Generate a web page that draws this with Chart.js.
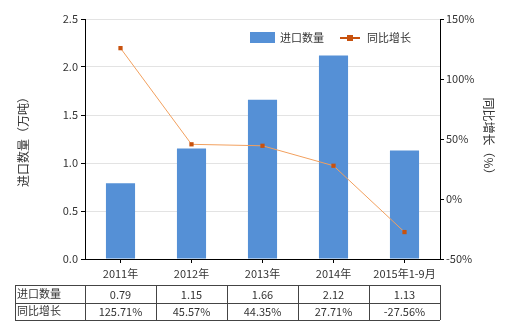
<!DOCTYPE html>
<html>
<head>
<meta charset="utf-8">
<script src="https://cdn.jsdelivr.net/npm/chart.js@4"></script>
<style>
  html, body { margin: 0; padding: 0; background: #fff; }
  #wrap { width: 520px; height: 330px; }
</style>
</head>
<body>
<div id="wrap"><canvas id="chart" width="520" height="330"></canvas></div>
<script>
// --- Data ---
const categories = ['2011年', '2012年', '2013年', '2014年', '2015年1-9月'];
const importQty = [0.79, 1.15, 1.66, 2.12, 1.13];
const yoyGrowth = [125.71, 45.57, 44.35, 27.71, -27.56];
const qtyLabels = ['0.79', '1.15', '1.66', '2.12', '1.13'];
const growthLabels = ['125.71%', '45.57%', '44.35%', '27.71%', '-27.56%'];
const leftTitle = '进口数量（万吨）';
const rightTitle = '同比增长（%）';

const FONT = '"Noto Sans CJK SC", "Noto Sans", sans-serif';
const BAR_COLOR = '#5590d6';
const LINE_COLOR = '#f2a05e';
const MARK_COLOR = '#c8520e';
const TEXT_COLOR = '#333';

// --- Axis titles, legend and data table drawn on top ---
const extrasPlugin = {
    id: 'extras',
    afterDraw(chart) {
        const ctx = chart.ctx;
        const x = chart.scales.x;
        const area = chart.chartArea;
        const midY = (area.top + area.bottom) / 2;
        ctx.save();
        ctx.textBaseline = 'middle';

        // axis titles
        ctx.font = '12px ' + FONT;
        ctx.fillStyle = TEXT_COLOR;
        ctx.textAlign = 'center';
        ctx.save();
        ctx.translate(23, midY);
        ctx.rotate(-Math.PI / 2);
        ctx.fillText(leftTitle, 0, 0);
        ctx.restore();
        ctx.save();
        ctx.translate(489, midY);
        ctx.rotate(Math.PI / 2);
        ctx.fillText(rightTitle, 0, 0);
        ctx.restore();

        // legend
        ctx.font = '11px ' + FONT;
        ctx.textAlign = 'left';
        ctx.fillStyle = BAR_COLOR;
        ctx.fillRect(250, 32, 25, 11);
        ctx.fillStyle = TEXT_COLOR;
        ctx.fillText('进口数量', 280, 38);
        ctx.strokeStyle = MARK_COLOR;
        ctx.lineWidth = 2;
        ctx.beginPath(); ctx.moveTo(340, 38); ctx.lineTo(360, 38); ctx.stroke();
        ctx.fillStyle = MARK_COLOR;
        ctx.fillRect(347, 35, 6, 6);
        ctx.fillStyle = TEXT_COLOR;
        ctx.fillText('同比增长', 367, 38);

        // table
        const top = 285, rowH = 17.5, left = 15;
        const step = x.getPixelForValue(1) - x.getPixelForValue(0);
        const cols = [left];
        for (let i = 0; i < categories.length; i++) cols.push(x.getPixelForValue(i) - step / 2);
        cols.push(x.getPixelForValue(categories.length - 1) + step / 2);
        const right = cols[cols.length - 1];
        ctx.strokeStyle = '#444';
        ctx.lineWidth = 1;
        ctx.beginPath();
        for (let r = 0; r <= 2; r++) {
            const yy = Math.round(top + r * rowH) + 0.5;
            ctx.moveTo(left, yy); ctx.lineTo(right, yy);
        }
        cols.forEach(cx => {
            const xx = Math.round(cx) + 0.5;
            ctx.moveTo(xx, top); ctx.lineTo(xx, top + 2 * rowH);
        });
        ctx.stroke();

        const rows = [['进口数量', qtyLabels], ['同比增长', growthLabels]];
        rows.forEach((row, r) => {
            const cy = top + r * rowH + rowH / 2;
            ctx.textAlign = 'left';
            ctx.fillText(row[0], left + 2, cy);
            ctx.textAlign = 'center';
            row[1].forEach((t, i) => ctx.fillText(t, x.getPixelForValue(i), cy + 1));
        });
        ctx.restore();
    }
};

new Chart(document.getElementById('chart'), {
    data: {
        labels: categories,
        datasets: [
            {
                type: 'line', label: '同比增长', data: yoyGrowth, yAxisID: 'y1',
                borderColor: LINE_COLOR, borderWidth: 1,
                pointStyle: 'rect', pointRadius: 3, pointBackgroundColor: MARK_COLOR,
                pointBorderColor: MARK_COLOR, pointBorderWidth: 0, tension: 0, order: 0
            },
            {
                type: 'bar', label: '进口数量', data: importQty, yAxisID: 'y',
                backgroundColor: BAR_COLOR, barPercentage: 0.41, categoryPercentage: 1, order: 1
            }
        ]
    },
    options: {
        responsive: false,
        animation: false,
        layout: { padding: { top: 19, left: 0, right: 0, bottom: 0 } },
        plugins: { legend: { display: false }, tooltip: { enabled: false } },
        scales: {
            x: {
                offset: true,
                grid: { offset: false, drawOnChartArea: false, tickColor: '#000', tickLength: 4 },
                border: { color: '#000' },
                ticks: { color: TEXT_COLOR, font: { size: 11, family: FONT }, padding: 4, maxRotation: 0 },
                afterFit(s) { s.height = 71; }
            },
            y: {
                position: 'left', min: 0, max: 2.5,
                grid: { color: '#e3e3e3', tickColor: '#000', tickLength: 4 },
                border: { color: '#000' },
                ticks: { stepSize: 0.5, color: TEXT_COLOR, font: { size: 11, family: FONT }, padding: 3,
                    callback: v => v.toFixed(1) },
                afterFit(s) { s.width = 85; }
            },
            y1: {
                position: 'right', min: -50, max: 150,
                grid: { drawOnChartArea: false, tickColor: '#000', tickLength: 4 },
                border: { color: '#000' },
                ticks: { stepSize: 50, color: TEXT_COLOR, font: { size: 11, family: FONT }, padding: 2,
                    callback: v => v + '%' },
                afterFit(s) { s.width = 80; }
            }
        }
    },
    plugins: [extrasPlugin]
});
</script>
</body>
</html>
